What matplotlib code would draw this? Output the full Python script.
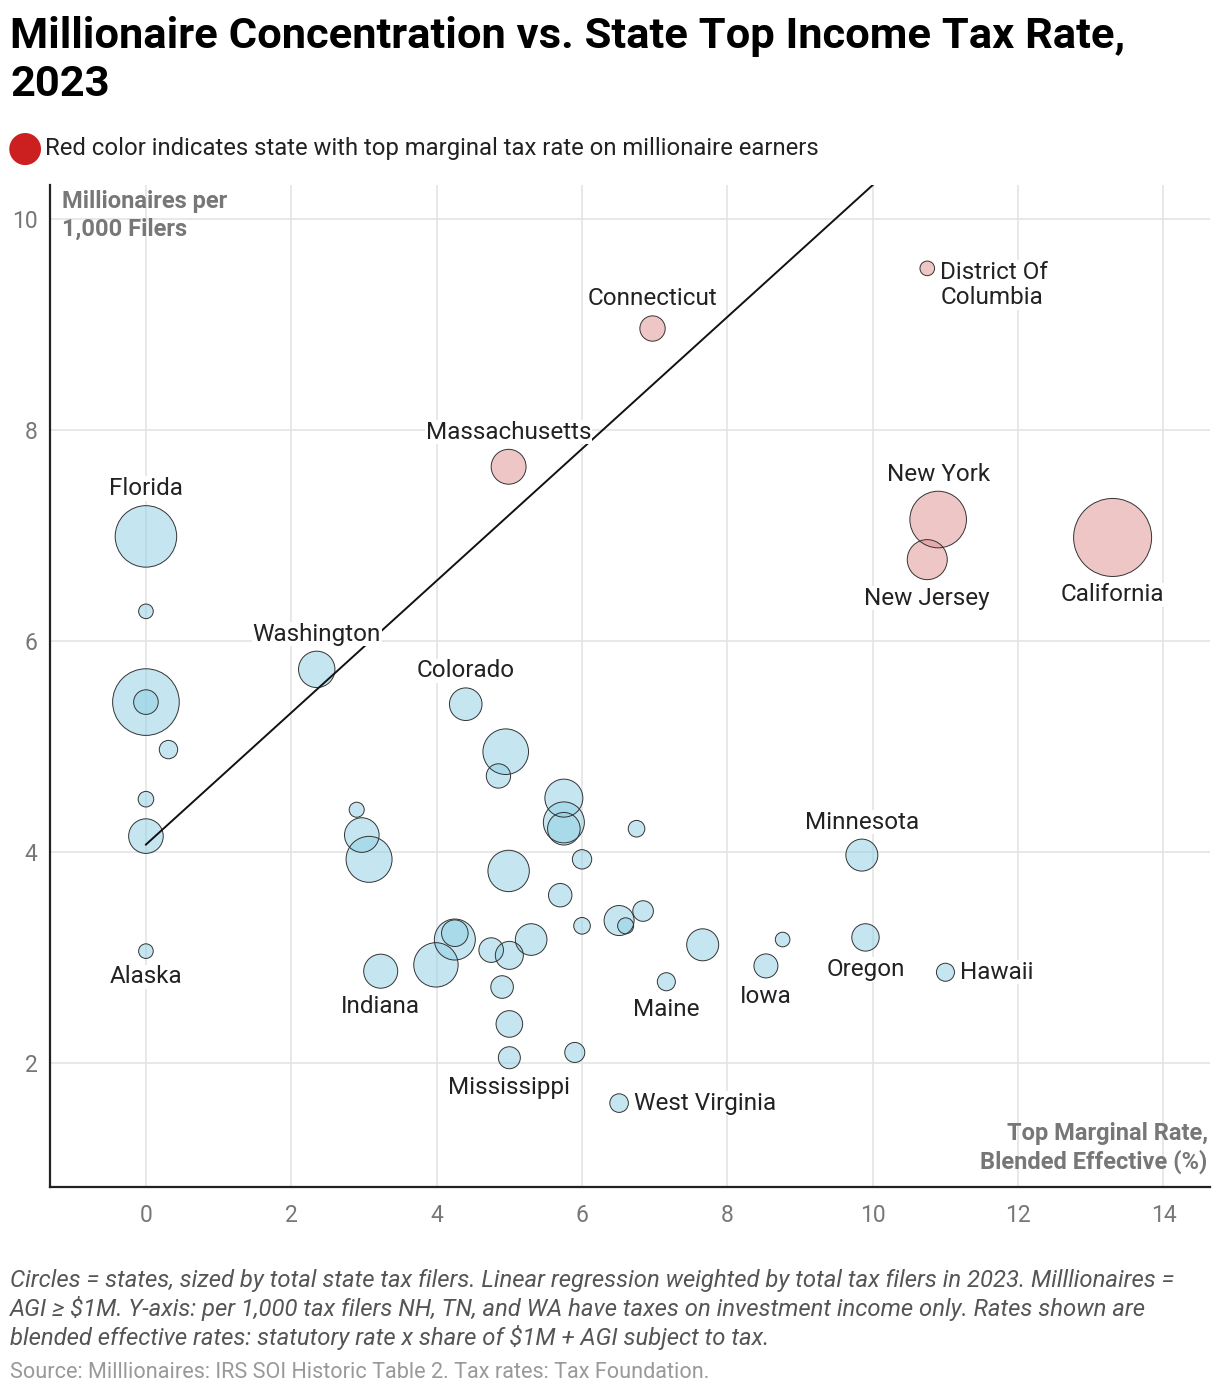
import numpy as np
import matplotlib.pyplot as plt

plt.rcParams['font.family'] = ['Roboto', 'DejaVu Sans']

# data
states = ['Florida', 'Wyoming', 'Texas', 'Nevada', 'New Hampshire', 'South Dakota',
          'Tennessee', 'Alaska', 'Washington', 'Colorado', 'Illinois', 'Utah',
          'Virginia', 'Georgia', 'North Carolina', 'Montana', 'North Dakota', 'Arizona',
          'Pennsylvania', 'Maryland', 'Delaware', 'Idaho', 'Rhode Island', 'South Carolina',
          'New Mexico', 'Nebraska', 'Wisconsin', 'Maine', 'Michigan', 'Louisiana',
          'Ohio', 'Indiana', 'Oklahoma', 'Kentucky', 'Missouri', 'Kansas', 'Alabama',
          'Mississippi', 'Arkansas', 'West Virginia', 'Minnesota', 'Vermont', 'Iowa',
          'Oregon', 'Hawaii', 'District Of\nColumbia', 'New York', 'New Jersey',
          'California', 'Connecticut', 'Massachusetts']
tax_rate = [0.0, 0.0, 0.0, 0.0, 0.31, 0.0,
            0.0, 0.0, 2.35, 4.40, 4.95, 4.85,
            5.75, 5.75, 5.75, 6.75, 2.90, 2.97,
            3.07, 4.99, 6.00, 5.70, 6.00, 6.51,
            6.60, 6.84, 7.66, 7.16, 4.25, 4.25,
            3.99, 3.23, 4.75, 5.00, 5.30, 4.90, 5.00,
            5.00, 5.90, 6.51, 9.85, 8.76, 8.53,
            9.90, 11.00, 10.75, 10.90, 10.75,
            13.30, 6.97, 4.99]
millionaires = [6.99, 6.28, 5.42, 5.42, 4.97, 4.50,
                4.15, 3.06, 5.73, 5.40, 4.95, 4.72,
                4.51, 4.28, 4.22, 4.22, 4.40, 4.16,
                3.93, 3.82, 3.93, 3.59, 3.30, 3.35,
                3.30, 3.44, 3.12, 2.77, 3.17, 3.23,
                2.93, 2.87, 3.07, 3.02, 3.17, 2.72, 2.37,
                2.05, 2.10, 1.62, 3.97, 3.17, 2.92,
                3.19, 2.86, 9.53, 7.15, 6.77,
                6.98, 8.96, 7.65]
filers_m = [11.5, 0.65, 13.5, 1.84, 1.03, 0.74,
            3.64, 0.65, 4.03, 3.23, 6.32, 1.80,
            4.39, 5.11, 3.23, 0.84, 0.69, 3.64,
            6.43, 5.21, 1.14, 1.67, 0.84, 2.74,
            0.78, 1.29, 3.11, 0.99, 5.11, 2.15,
            5.99, 3.52, 1.84, 2.38, 3.04, 1.55, 2.15,
            1.47, 1.22, 1.05, 3.11, 0.65, 1.75,
            2.28, 0.99, 0.65, 9.74, 4.87,
            18.5, 1.95, 3.70]
red_states = ['District Of\nColumbia', 'New York', 'New Jersey', 'California',
              'Connecticut', 'Massachusetts']

label_pos = {
    'Florida': 'above', 'Alaska': 'below', 'Washington': 'above', 'Colorado': 'above',
    'Indiana': 'below', 'Mississippi': 'below', 'West Virginia': 'right',
    'Maine': 'below', 'Iowa': 'below', 'Oregon': 'below', 'Hawaii': 'right',
    'Minnesota': 'above', 'District Of\nColumbia': 'right_top', 'New York': 'above',
    'New Jersey': 'below', 'California': 'below', 'Connecticut': 'above',
    'Massachusetts': 'above',
}

# weighted regression line
reg_intercept = 4.07
reg_slope = 0.625

x_ticks = [0, 2, 4, 6, 8, 10, 12, 14]
y_ticks = [2, 4, 6, 8, 10]

blue = '#8ccfe3'
red = '#e08f8f'

fig = plt.figure(figsize=(12.2, 13.96), dpi=100)
ax = fig.add_axes([50 / 1220, 1 - 1187 / 1396, 1160 / 1220, 1002 / 1396])

# radius in pixels, area proportional to filers
r_px = 39 * np.sqrt(np.array(filers_m) / 18.5)
r_pt = r_px * 72 / 100
sizes = (2 * r_pt) ** 2
colors = [red if s in red_states else blue for s in states]

ax.scatter(tax_rate, millionaires, s=sizes, c=colors, alpha=0.5,
           edgecolors='none', zorder=2)
ax.scatter(tax_rate, millionaires, s=sizes, facecolors='none',
           edgecolors='#333333', linewidths=0.7, zorder=2.1)

xl = np.array([0, 12])
ax.plot(xl, reg_intercept + reg_slope * xl, color='#111111', lw=1.4, zorder=3)

for name, x, y, r in zip(states, tax_rate, millionaires, r_pt):
    if name not in label_pos:
        continue
    pos = label_pos[name]
    kw = dict(textcoords='offset points', fontsize=17.5, color='#222222', zorder=4,
              bbox=dict(facecolor='white', edgecolor='none', pad=0.5))
    if pos == 'above':
        ax.annotate(name, (x, y), xytext=(0, r + 4), ha='center', va='bottom', **kw)
    elif pos == 'below':
        ax.annotate(name, (x, y), xytext=(0, -r - 5), ha='center', va='top', **kw)
    elif pos == 'right':
        ax.annotate(name, (x, y), xytext=(r + 4, 0), ha='left', va='center', **kw)
    else:
        ax.annotate(name, (x, y), xytext=(r + 4, 5.5), ha='left', va='top',
                    linespacing=1.12, **kw)

ax.set_xlim(-1.32, 14.64)
ax.set_ylim(0.825, 10.32)
ax.set_xticks(x_ticks)
ax.set_yticks(y_ticks)
ax.grid(True, color='#e4e4e4', lw=1.2, zorder=0)
ax.set_axisbelow(True)
ax.tick_params(length=0, labelsize=16.5, labelcolor='#777777')
ax.tick_params(axis='x', pad=12)
ax.tick_params(axis='y', pad=9)
for side in ['top', 'right']:
    ax.spines[side].set_visible(False)
for side in ['left', 'bottom']:
    ax.spines[side].set_color('#222222')
    ax.spines[side].set_linewidth(1.6)

ax.text(0.01, 0.995, 'Millionaires per\n1,000 Filers', transform=ax.transAxes,
        ha='left', va='top', fontsize=17, fontweight='bold', color='#777777',
        linespacing=1.25)
ax.text(0.998, 0.013, 'Top Marginal Rate,\nBlended Effective (%)', transform=ax.transAxes,
        ha='right', va='bottom', fontsize=17, fontweight='bold', color='#777777',
        linespacing=1.25, multialignment='right')

fig.text(10 / 1220, 1 - 16 / 1396, 'Millionaire Concentration vs. State Top Income Tax Rate,\n2023',
         ha='left', va='top', fontsize=31.3, fontweight='bold', color='#000000',
         linespacing=1.22)
fig.text(25 / 1220, 1 - 148 / 1396, '\u25CF', ha='center', va='center', fontsize=30,
         color='#cc1f1f', family=['DejaVu Sans'])
fig.text(45 / 1220, 1 - 148 / 1396,
         'Red color indicates state with top marginal tax rate on millionaire earners',
         ha='left', va='center', fontsize=17.2, color='#222222')

fig.text(10 / 1220, 1 - 1269 / 1396,
         'Circles = states, sized by total state tax filers. Linear regression weighted by total tax filers in 2023. Milllionaires =\n'
         'AGI \u2265 $1M. Y-axis: per 1,000 tax filers NH, TN, and WA have taxes on investment income only. Rates shown are\n'
         'blended effective rates: statutory rate x share of $1M + AGI subject to tax.',
         ha='left', va='top', fontsize=17.2, style='italic', color='#555555', linespacing=1.2)
fig.text(10 / 1220, 1 - 1372 / 1396,
         'Source: Milllionaires: IRS SOI Historic Table 2. Tax rates: Tax Foundation.',
         ha='left', va='center', fontsize=15.6, color='#999999')

fig.savefig('out.png', dpi=100, facecolor='white')
